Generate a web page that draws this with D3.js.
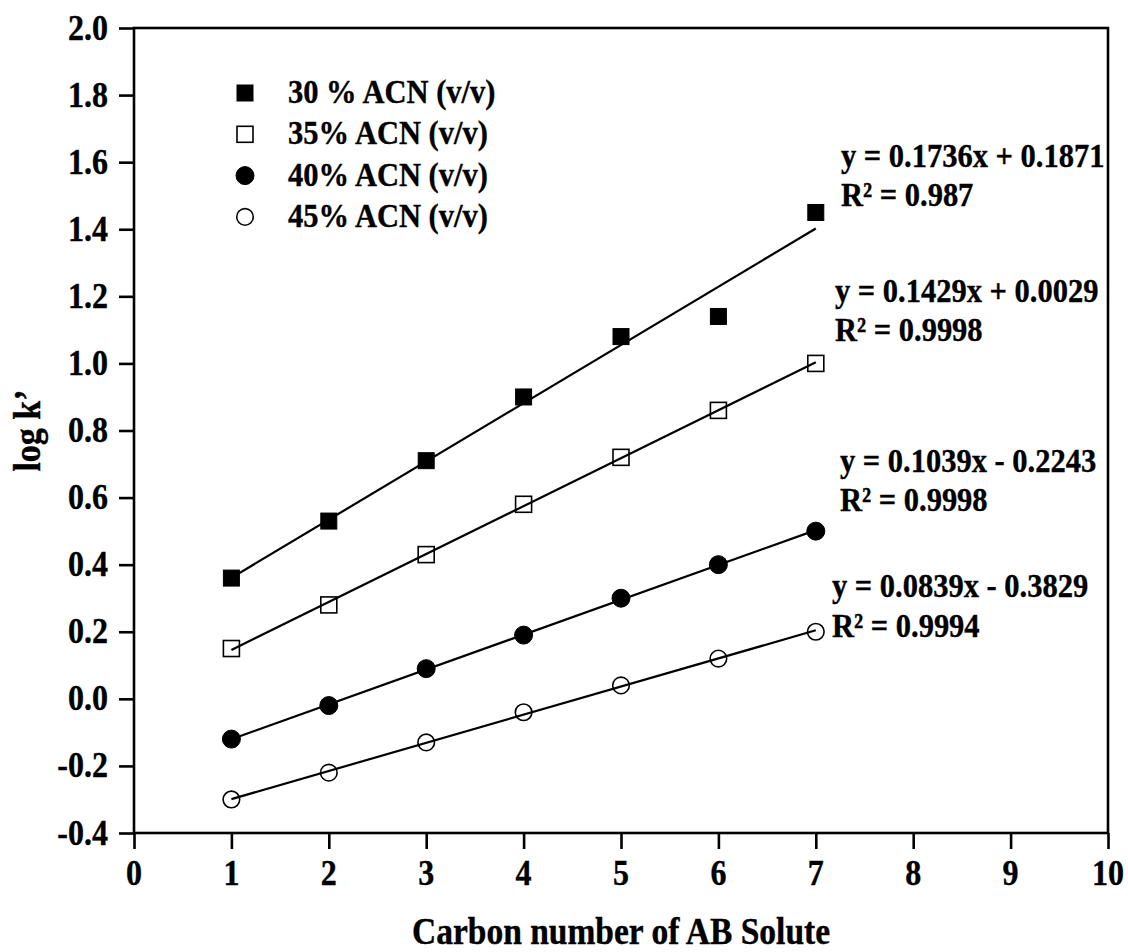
<!DOCTYPE html>
<html>
<head>
<meta charset="utf-8">
<script src="https://cdn.jsdelivr.net/npm/d3@7/dist/d3.min.js"></script>
<style>
  html, body { margin: 0; padding: 0; background: #fff; }
  svg { display: block; }
  text { font-family: "Liberation Serif", "Times New Roman", serif; font-weight: bold; fill: #000; }
</style>
</head>
<body>
<svg id="chart" width="1128" height="952"></svg>
<script>
// Carbon number of the AB solute (x values)
const carbonNumbers = [1, 2, 3, 4, 5, 6, 7];

// log k' for each mobile phase composition
const seriesNames = ["30 % ACN (v/v)", "35% ACN (v/v)", "40% ACN (v/v)", "45% ACN (v/v)"];
const acn30 = [0.36, 0.53, 0.71, 0.90, 1.08, 1.14, 1.45];
const acn35 = [0.15, 0.28, 0.43, 0.58, 0.72, 0.86, 1.00];
const acn40 = [-0.12, -0.02, 0.09, 0.19, 0.30, 0.40, 0.50];
const acn45 = [-0.30, -0.22, -0.13, -0.04, 0.04, 0.12, 0.20];

// Linear fits y = slope * x + intercept, with R²
const fitSlopes = [0.1736, 0.1429, 0.1039, 0.0839];
const fitIntercepts = [0.1871, 0.0029, -0.2243, -0.3829];
const fitR2 = ["0.987", "0.9998", "0.9998", "0.9994"];

// Axis ticks
const xTickValues = [0, 1, 2, 3, 4, 5, 6, 7, 8, 9, 10];
const yTickValues = [-0.4, -0.2, 0.0, 0.2, 0.4, 0.6, 0.8, 1.0, 1.2, 1.4, 1.6, 1.8, 2.0];
const yTickLabels = ["-0.4", "-0.2", "0.0", "0.2", "0.4", "0.6", "0.8", "1.0", "1.2", "1.4", "1.6", "1.8", "2.0"];

const xTitle = "Carbon number of AB Solute";
const yTitle = "log k\u2019";

// ---- layout ----
const plot = { left: 134, right: 1108, top: 28, bottom: 833 };
const TALL = 1.1;   // slightly condensed, tall lettering
const svg = d3.select("#chart");

const x = d3.scaleLinear().domain([0, 10]).range([plot.left, plot.right]);
const y = d3.scaleLinear().domain([-0.4, 2.0]).range([plot.bottom, plot.top]);

const allSeries = [acn30, acn35, acn40, acn45];
const markerKinds = ["squareFilled", "squareOpen", "circleFilled", "circleOpen"];

// text placed at (tx, ty) baseline, drawn a little taller than wide
function tallText(parent, tx, ty, str, size, anchor, rotate) {
  const rot = rotate ? ` rotate(${rotate})` : "";
  return parent.append("text")
    .attr("transform", `translate(${tx},${ty})${rot} scale(1,${TALL})`)
    .attr("text-anchor", anchor || "start")
    .style("font-size", size + "px")
    .attr("stroke", "#000").attr("stroke-width", 0.35)
    .text(str);
}

function drawMarker(g, kind, cx, cy) {
  if (kind.startsWith("square")) {
    const s = 16;
    g.append("rect")
      .attr("x", cx - s / 2).attr("y", cy - s / 2)
      .attr("width", s).attr("height", s)
      .attr("fill", kind === "squareFilled" ? "#000" : "#fff")
      .attr("stroke", "#000")
      .attr("stroke-width", kind === "squareFilled" ? 1 : 1.6);
  } else {
    g.append("circle")
      .attr("cx", cx).attr("cy", cy)
      .attr("r", kind === "circleFilled" ? 9 : 8.3)
      .attr("fill", kind === "circleFilled" ? "#000" : "#fff")
      .attr("stroke", "#000")
      .attr("stroke-width", kind === "circleFilled" ? 1 : 1.6);
  }
}

// ---- axes (tick marks from d3 axes, labels drawn tall) ----
const xAxis = d3.axisBottom(x).tickValues(xTickValues).tickSize(16).tickFormat("");
const yAxis = d3.axisLeft(y).tickValues(yTickValues).tickSize(15).tickFormat("");

const gx = svg.append("g").attr("transform", `translate(0,${plot.bottom})`).call(xAxis);
const gy = svg.append("g").attr("transform", `translate(${plot.left},0)`).call(yAxis);

[gx, gy].forEach(g => {
  g.select(".domain").remove();
  g.selectAll(".tick line").attr("stroke", "#000").attr("stroke-width", 2.6);
  g.selectAll(".tick text").remove();
});

const tickLabels = svg.append("g");
xTickValues.forEach(v => tallText(tickLabels, x(v), 885, d3.format("d")(v), 32, "middle"));
yTickValues.forEach((v, i) => tallText(tickLabels, 108, y(v) + 11.5, yTickLabels[i], 32, "end"));

// frame
svg.append("rect")
  .attr("x", plot.left).attr("y", plot.top)
  .attr("width", plot.right - plot.left).attr("height", plot.bottom - plot.top)
  .attr("fill", "none").attr("stroke", "#000").attr("stroke-width", 2.6);

// ---- markers ----
const marks = svg.append("g");
allSeries.forEach((vals, si) => {
  vals.forEach((v, i) => drawMarker(marks, markerKinds[si], x(carbonNumbers[i]), y(v)));
});

// ---- fitted trend lines ----
const line = d3.line().x(d => x(d[0])).y(d => y(d[1]));
const xMin = d3.min(carbonNumbers), xMax = d3.max(carbonNumbers);
fitSlopes.forEach((m, i) => {
  const b = fitIntercepts[i];
  svg.append("path")
    .datum([[xMin, m * xMin + b], [xMax, m * xMax + b]])
    .attr("d", line)
    .attr("fill", "none").attr("stroke", "#000").attr("stroke-width", 2.2);
});

// ---- equation labels ----
const eqPos = [
  { x: 841, y1: 167, y2: 206 },
  { x: 835, y1: 302, y2: 341 },
  { x: 840, y1: 472, y2: 511 },
  { x: 832, y1: 597, y2: 637 }
];
function fmtEq(m, b) {
  const sign = b < 0 ? "- " : "+ ";
  return `y = ${m.toFixed(4)}x ${sign}${Math.abs(b).toFixed(4)}`;
}
const eqs = svg.append("g");
fitSlopes.forEach((m, i) => {
  const p = eqPos[i];
  tallText(eqs, p.x, p.y1, fmtEq(m, fitIntercepts[i]), 30.5);
  tallText(eqs, p.x, p.y2, `R\u00B2 = ${fitR2[i]}`, 30.5);
});

// ---- legend ----
const legend = svg.append("g");
seriesNames.forEach((name, i) => {
  const base = 103 + i * 41.3;
  drawMarker(legend, markerKinds[i], 245, base - 10);
  tallText(legend, 288, base, name, 30.5);
});

// ---- axis titles ----
tallText(svg, (plot.left + plot.right) / 2, 944, xTitle, 33.5, "middle");
tallText(svg, 40, (plot.top + plot.bottom) / 2, yTitle, 34, "middle", -90);
</script>
</body>
</html>
